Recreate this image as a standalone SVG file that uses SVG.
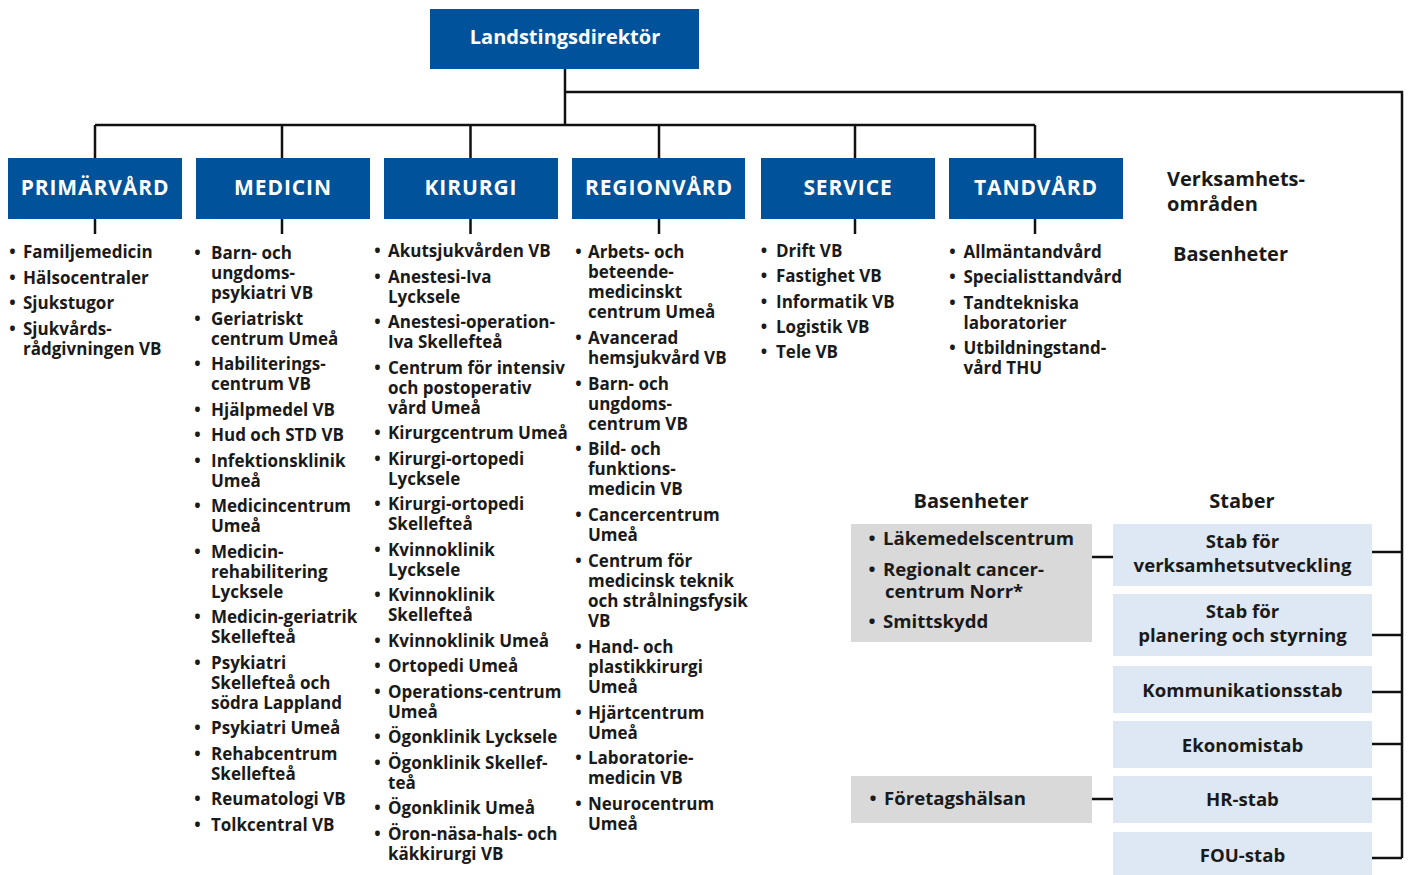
<svg xmlns="http://www.w3.org/2000/svg" width="1408" height="875" viewBox="0 0 1408 875">
  <style>
    text { font-family: "Open Sans", "Noto Sans", "Liberation Sans", sans-serif; font-weight: 700; fill: #1a1a1a; }
    .head-box { fill: #00529b; }
    .head { fill: #ffffff; font-size: 21px; letter-spacing: 0.9px; text-anchor: middle; }
    .top { fill: #ffffff; font-size: 20px; text-anchor: middle; }
    .li { font-size: 17px; }
    .bul { font-size: 17px; text-anchor: middle; }
    .side { font-size: 20px; }
    .gray { fill: #d9d9da; }
    .stab { fill: #dee8f4; }
    .st { font-size: 18.6px; text-anchor: middle; }
    .gl { font-size: 18.6px; }
    .wire { fill: none; stroke: #111111; stroke-width: 2.5; }
  </style>

  <!-- connectors -->
  <g id="connectors" class="wire">
    <path d="M565,69 V125"/>
    <path d="M565,92 H1402 V858"/>
    <path d="M95,125 H1035"/>
    <path d="M95,125 V158 M282,125 V158 M470.5,125 V158 M659,125 V158 M855,125 V158 M1035,125 V158"/>
    <path d="M95,219 V234 M282,219 V234 M470.5,219 V234 M659,219 V234 M855,219 V234 M1035,219 V234"/>
    <path d="M1372,552 H1402 M1372,635 H1402 M1372,692 H1402 M1372,744 H1402 M1372,799 H1402 M1372,858 H1402"/>
    <path d="M1092,557 H1113 M1092,799 H1113"/>
  </g>

  <!-- director -->
  <g id="landstingsdirektor">
    <rect class="head-box" x="430" y="9" width="269" height="60"/>
    <text class="top" x="565" y="44">Landstingsdirektör</text>
  </g>

  <!-- business areas -->
  <g id="primarvard">
    <rect class="head-box" x="8" y="158" width="174" height="61"/>
    <text class="head" x="95" y="195">PRIMÄRVÅRD</text>
    <text class="bul"><tspan x="12.5" y="258">•</tspan><tspan x="12.5" y="283.5">•</tspan><tspan x="12.5" y="309">•</tspan><tspan x="12.5" y="334.5">•</tspan></text>
    <text class="li">
      <tspan x="23" y="258">Familjemedicin</tspan>
      <tspan x="23" y="283.5">Hälsocentraler</tspan>
      <tspan x="23" y="309">Sjukstugor</tspan>
      <tspan x="23" y="334.5">Sjukvårds-</tspan>
      <tspan x="23" y="354.5">rådgivningen VB</tspan>
    </text>
  </g>

  <g id="medicin">
    <rect class="head-box" x="196" y="158" width="174" height="61"/>
    <text class="head" x="283" y="195">MEDICIN</text>
    <text class="bul"><tspan x="197.5" y="259">•</tspan><tspan x="197.5" y="324.5">•</tspan><tspan x="197.5" y="370">•</tspan><tspan x="197.5" y="415.5">•</tspan><tspan x="197.5" y="441">•</tspan><tspan x="197.5" y="466.5">•</tspan><tspan x="197.5" y="512">•</tspan><tspan x="197.5" y="557.5">•</tspan><tspan x="197.5" y="623">•</tspan><tspan x="197.5" y="668.5">•</tspan><tspan x="197.5" y="734">•</tspan><tspan x="197.5" y="759.5">•</tspan><tspan x="197.5" y="805">•</tspan><tspan x="197.5" y="830.5">•</tspan></text>
    <text class="li">
      <tspan x="211" y="259">Barn- och</tspan>
      <tspan x="211" y="279">ungdoms-</tspan>
      <tspan x="211" y="299">psykiatri VB</tspan>
      <tspan x="211" y="324.5">Geriatriskt</tspan>
      <tspan x="211" y="344.5">centrum Umeå</tspan>
      <tspan x="211" y="370">Habiliterings-</tspan>
      <tspan x="211" y="390">centrum VB</tspan>
      <tspan x="211" y="415.5">Hjälpmedel VB</tspan>
      <tspan x="211" y="441">Hud och STD VB</tspan>
      <tspan x="211" y="466.5">Infektionsklinik</tspan>
      <tspan x="211" y="486.5">Umeå</tspan>
      <tspan x="211" y="512">Medicincentrum</tspan>
      <tspan x="211" y="532">Umeå</tspan>
      <tspan x="211" y="557.5">Medicin-</tspan>
      <tspan x="211" y="577.5">rehabilitering</tspan>
      <tspan x="211" y="597.5">Lycksele</tspan>
      <tspan x="211" y="623">Medicin-geriatrik</tspan>
      <tspan x="211" y="643">Skellefteå</tspan>
      <tspan x="211" y="668.5">Psykiatri</tspan>
      <tspan x="211" y="688.5">Skellefteå och</tspan>
      <tspan x="211" y="708.5">södra Lappland</tspan>
      <tspan x="211" y="734">Psykiatri Umeå</tspan>
      <tspan x="211" y="759.5">Rehabcentrum</tspan>
      <tspan x="211" y="779.5">Skellefteå</tspan>
      <tspan x="211" y="805">Reumatologi VB</tspan>
      <tspan x="211" y="830.5">Tolkcentral VB</tspan>
    </text>
  </g>

  <g id="kirurgi">
    <rect class="head-box" x="384" y="158" width="174" height="61"/>
    <text class="head" x="471" y="195">KIRURGI</text>
    <text class="bul"><tspan x="377.5" y="257">•</tspan><tspan x="377.5" y="282.5">•</tspan><tspan x="377.5" y="328">•</tspan><tspan x="377.5" y="373.5">•</tspan><tspan x="377.5" y="439">•</tspan><tspan x="377.5" y="464.5">•</tspan><tspan x="377.5" y="510">•</tspan><tspan x="377.5" y="555.5">•</tspan><tspan x="377.5" y="601">•</tspan><tspan x="377.5" y="646.5">•</tspan><tspan x="377.5" y="672">•</tspan><tspan x="377.5" y="697.5">•</tspan><tspan x="377.5" y="743">•</tspan><tspan x="377.5" y="768.5">•</tspan><tspan x="377.5" y="814">•</tspan><tspan x="377.5" y="839.5">•</tspan></text>
    <text class="li">
      <tspan x="388" y="257">Akutsjukvården VB</tspan>
      <tspan x="388" y="282.5">Anestesi-Iva</tspan>
      <tspan x="388" y="302.5">Lycksele</tspan>
      <tspan x="388" y="328">Anestesi-operation-</tspan>
      <tspan x="388" y="348">Iva Skellefteå</tspan>
      <tspan x="388" y="373.5">Centrum för intensiv</tspan>
      <tspan x="388" y="393.5">och postoperativ</tspan>
      <tspan x="388" y="413.5">vård Umeå</tspan>
      <tspan x="388" y="439">Kirurgcentrum Umeå</tspan>
      <tspan x="388" y="464.5">Kirurgi-ortopedi</tspan>
      <tspan x="388" y="484.5">Lycksele</tspan>
      <tspan x="388" y="510">Kirurgi-ortopedi</tspan>
      <tspan x="388" y="530">Skellefteå</tspan>
      <tspan x="388" y="555.5">Kvinnoklinik</tspan>
      <tspan x="388" y="575.5">Lycksele</tspan>
      <tspan x="388" y="601">Kvinnoklinik</tspan>
      <tspan x="388" y="621">Skellefteå</tspan>
      <tspan x="388" y="646.5">Kvinnoklinik Umeå</tspan>
      <tspan x="388" y="672">Ortopedi Umeå</tspan>
      <tspan x="388" y="697.5">Operations-centrum</tspan>
      <tspan x="388" y="717.5">Umeå</tspan>
      <tspan x="388" y="743">Ögonklinik Lycksele</tspan>
      <tspan x="388" y="768.5">Ögonklinik Skellef-</tspan>
      <tspan x="388" y="788.5">teå</tspan>
      <tspan x="388" y="814">Ögonklinik Umeå</tspan>
      <tspan x="388" y="839.5">Öron-näsa-hals- och</tspan>
      <tspan x="388" y="859.5">käkkirurgi VB</tspan>
    </text>
  </g>

  <g id="regionvard">
    <rect class="head-box" x="572" y="158" width="173" height="61"/>
    <text class="head" x="659" y="195">REGIONVÅRD</text>
    <text class="bul"><tspan x="578.5" y="258">•</tspan><tspan x="578.5" y="344">•</tspan><tspan x="578.5" y="389.5">•</tspan><tspan x="578.5" y="455">•</tspan><tspan x="578.5" y="521">•</tspan><tspan x="578.5" y="567">•</tspan><tspan x="578.5" y="653">•</tspan><tspan x="578.5" y="719">•</tspan><tspan x="578.5" y="764">•</tspan><tspan x="578.5" y="810">•</tspan></text>
    <text class="li">
      <tspan x="588" y="258">Arbets- och</tspan>
      <tspan x="588" y="278">beteende-</tspan>
      <tspan x="588" y="298">medicinskt</tspan>
      <tspan x="588" y="318">centrum Umeå</tspan>
      <tspan x="588" y="344">Avancerad</tspan>
      <tspan x="588" y="364">hemsjukvård VB</tspan>
      <tspan x="588" y="389.5">Barn- och</tspan>
      <tspan x="588" y="409.5">ungdoms-</tspan>
      <tspan x="588" y="429.5">centrum VB</tspan>
      <tspan x="588" y="455">Bild- och</tspan>
      <tspan x="588" y="475">funktions-</tspan>
      <tspan x="588" y="495">medicin VB</tspan>
      <tspan x="588" y="521">Cancercentrum</tspan>
      <tspan x="588" y="541">Umeå</tspan>
      <tspan x="588" y="567">Centrum för</tspan>
      <tspan x="588" y="587">medicinsk teknik</tspan>
      <tspan x="588" y="607">och strålningsfysik</tspan>
      <tspan x="588" y="627">VB</tspan>
      <tspan x="588" y="653">Hand- och</tspan>
      <tspan x="588" y="673">plastikkirurgi</tspan>
      <tspan x="588" y="693">Umeå</tspan>
      <tspan x="588" y="719">Hjärtcentrum</tspan>
      <tspan x="588" y="739">Umeå</tspan>
      <tspan x="588" y="764">Laboratorie-</tspan>
      <tspan x="588" y="784">medicin VB</tspan>
      <tspan x="588" y="810">Neurocentrum</tspan>
      <tspan x="588" y="830">Umeå</tspan>
    </text>
  </g>

  <g id="service">
    <rect class="head-box" x="761" y="158" width="174" height="61"/>
    <text class="head" x="848" y="195">SERVICE</text>
    <text class="bul"><tspan x="764" y="257">•</tspan><tspan x="764" y="282">•</tspan><tspan x="764" y="307.5">•</tspan><tspan x="764" y="333">•</tspan><tspan x="764" y="358">•</tspan></text>
    <text class="li">
      <tspan x="776" y="257">Drift VB</tspan>
      <tspan x="776" y="282">Fastighet VB</tspan>
      <tspan x="776" y="307.5">Informatik VB</tspan>
      <tspan x="776" y="333">Logistik VB</tspan>
      <tspan x="776" y="358">Tele VB</tspan>
    </text>
  </g>

  <g id="tandvard">
    <rect class="head-box" x="949" y="158" width="174" height="61"/>
    <text class="head" x="1036" y="195">TANDVÅRD</text>
    <text class="bul"><tspan x="952.5" y="258">•</tspan><tspan x="952.5" y="283">•</tspan><tspan x="952.5" y="308.5">•</tspan><tspan x="952.5" y="354">•</tspan></text>
    <text class="li">
      <tspan x="963.5" y="258">Allmäntandvård</tspan>
      <tspan x="963.5" y="283">Specialisttandvård</tspan>
      <tspan x="963.5" y="308.5">Tandtekniska</tspan>
      <tspan x="963.5" y="328.5">laboratorier</tspan>
      <tspan x="963.5" y="354">Utbildningstand-</tspan>
      <tspan x="963.5" y="374">vård THU</tspan>
    </text>
  </g>

  <!-- row legends -->
  <g id="legend">
    <text class="side"><tspan x="1167" y="186">Verksamhets-</tspan><tspan x="1167" y="211">områden</tspan></text>
    <text class="side" x="1173" y="261">Basenheter</text>
  </g>

  <!-- central base units -->
  <g id="basenheter">
    <text class="side" x="971" y="508" text-anchor="middle">Basenheter</text>
    <rect class="gray" x="851" y="524" width="241" height="118"/>
    <text class="gl" text-anchor="middle"><tspan x="872" y="545">•</tspan><tspan x="872" y="576">•</tspan><tspan x="872" y="628">•</tspan></text>
    <text class="gl">
      <tspan x="883" y="545">Läkemedelscentrum</tspan>
      <tspan x="883" y="576">Regionalt cancer-</tspan>
      <tspan x="885" y="598">centrum Norr*</tspan>
      <tspan x="883" y="628">Smittskydd</tspan>
    </text>
  </g>
  <g id="foretagshalsan">
    <rect class="gray" x="851" y="776" width="241" height="47"/>
    <text class="gl" x="873" y="805" text-anchor="middle">•</text>
    <text class="gl" x="884" y="805">Företagshälsan</text>
  </g>

  <!-- staff units -->
  <g id="staber">
    <text class="side" x="1242" y="508" text-anchor="middle">Staber</text>
  </g>
  <g id="stab-verksamhetsutveckling">
    <rect class="stab" x="1113" y="524" width="259" height="62"/>
    <text class="st"><tspan x="1242.5" y="548">Stab för</tspan><tspan x="1242.5" y="572">verksamhetsutveckling</tspan></text>
  </g>
  <g id="stab-planering">
    <rect class="stab" x="1113" y="594" width="259" height="62"/>
    <text class="st"><tspan x="1242.5" y="618">Stab för</tspan><tspan x="1242.5" y="642">planering och styrning</tspan></text>
  </g>
  <g id="kommunikationsstab">
    <rect class="stab" x="1113" y="666" width="259" height="47"/>
    <text class="st" x="1242.5" y="697">Kommunikationsstab</text>
  </g>
  <g id="ekonomistab">
    <rect class="stab" x="1113" y="721" width="259" height="47"/>
    <text class="st" x="1242.5" y="752">Ekonomistab</text>
  </g>
  <g id="hr-stab">
    <rect class="stab" x="1113" y="776" width="259" height="47"/>
    <text class="st" x="1242.5" y="806">HR-stab</text>
  </g>
  <g id="fou-stab">
    <rect class="stab" x="1113" y="832" width="259" height="43"/>
    <text class="st" x="1242.5" y="862">FOU-stab</text>
  </g>
</svg>
